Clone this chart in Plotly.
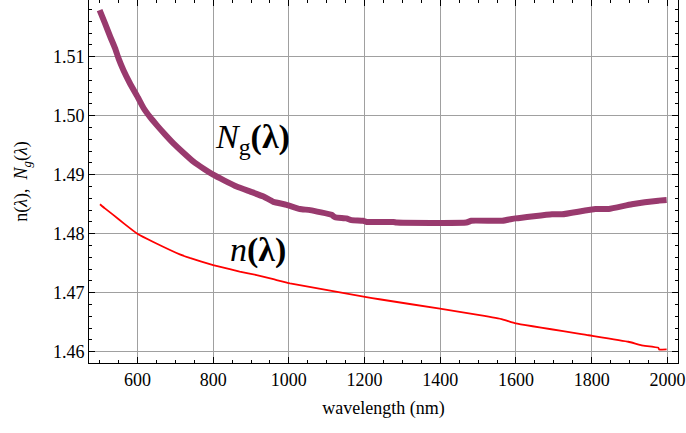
import plotly.graph_objects as go

# Group index N_g(lambda) of the fibre
ng_wavelength = [500, 514, 528, 541, 550, 563, 580, 602, 616, 634, 651, 673, 695, 720,
                 748, 775, 800, 830, 862, 900, 933, 959, 994, 1029, 1056, 1113, 1122,
                 1152, 1165, 1196, 1205, 1276, 1285, 1469, 1482, 1564, 1599, 1695, 1722,
                 1810, 1845, 1906, 1976, 1998]
ng_value = [1.5179, 1.5157, 1.5134, 1.5114, 1.5097, 1.5077, 1.5055, 1.5030, 1.5013,
            1.4997, 1.4984, 1.4968, 1.4953, 1.4938, 1.4922, 1.4910, 1.4900, 1.4890,
            1.4880, 1.4871, 1.4863, 1.4854, 1.4849, 1.4842, 1.4840, 1.4832, 1.4828,
            1.4826, 1.4823, 1.4822, 1.4820, 1.4820, 1.4819, 1.4819, 1.4822, 1.4822,
            1.4826, 1.4833, 1.4833, 1.4842, 1.4842, 1.4850, 1.4856, 1.4857]

# Phase index n(lambda)
n_wavelength = [501, 514, 536, 563, 602, 642, 712, 738, 800, 844, 870, 915, 959, 1003,
                1201, 1239, 1399, 1504, 1564, 1599, 1792, 1897, 1932, 1976, 1978, 1998]
n_value = [1.4850, 1.4843, 1.4832, 1.4818, 1.4799, 1.4786, 1.4765, 1.4759, 1.4747,
           1.4740, 1.4736, 1.4730, 1.4723, 1.4716, 1.4693, 1.4689, 1.4673, 1.4662,
           1.4655, 1.4648, 1.4628, 1.4617, 1.4611, 1.4607, 1.4604, 1.4604]

x_ticks = [600, 800, 1000, 1200, 1400, 1600, 1800, 2000]
y_ticks = [1.46, 1.47, 1.48, 1.49, 1.50, 1.51]

serif = "Liberation Serif, Times New Roman, serif"
purple = "rgb(153,58,110)"

fig = go.Figure()
fig.add_trace(go.Scatter(x=ng_wavelength, y=ng_value, mode="lines",
                         line=dict(color=purple, width=6, shape="spline", smoothing=0.4),
                         showlegend=False))
fig.add_trace(go.Scatter(x=n_wavelength, y=n_value, mode="lines",
                         line=dict(color="#ff0000", width=1.8, shape="spline", smoothing=0.3),
                         showlegend=False))

fig.add_annotation(x=903, y=1.4960, xref="x", yref="y", showarrow=False,
                   text="<i>N</i><sub>g</sub><b>(λ)</b>",
                   font=dict(family=serif, size=34, color="black"))
fig.add_annotation(x=918, y=1.4772, xref="x", yref="y", showarrow=False,
                   text="<i>n</i><b>(λ)</b>",
                   font=dict(family=serif, size=34, color="black"))

axis_common = dict(
    showline=True, linecolor="black", linewidth=1, mirror="allticks",
    ticks="inside", ticklen=6, tickcolor="black", tickwidth=1,
    showgrid=True, gridcolor="#a0a0a0", gridwidth=1, zeroline=False,
    tickfont=dict(family=serif, size=18, color="black"),
)

fig.update_xaxes(range=[472, 2028], tickvals=x_ticks,
                 minor=dict(dtick=50, tick0=0, ticks="inside", ticklen=3,
                            tickcolor="black", showgrid=False),
                 title=dict(text="wavelength (nm)", standoff=12,
                            font=dict(family=serif, size=18, color="black")),
                 **axis_common)
fig.update_yaxes(range=[1.4581, 1.5196], tickvals=y_ticks, tickformat=".2f",
                 minor=dict(dtick=0.002, tick0=1.46, ticks="inside", ticklen=3,
                            tickcolor="black", showgrid=False),
                 title=dict(text="n(<i>λ</i>),  <i>N</i><sub><i>g</i></sub>(<i>λ</i>)",
                            standoff=20,
                            font=dict(family=serif, size=18, color="black")),
                 **axis_common)

fig.update_layout(width=686, height=433,
                  margin=dict(l=89, r=8, t=0, b=70),
                  paper_bgcolor="white", plot_bgcolor="white",
                  font=dict(family=serif, color="black"))

fig.write_html("out.html")
